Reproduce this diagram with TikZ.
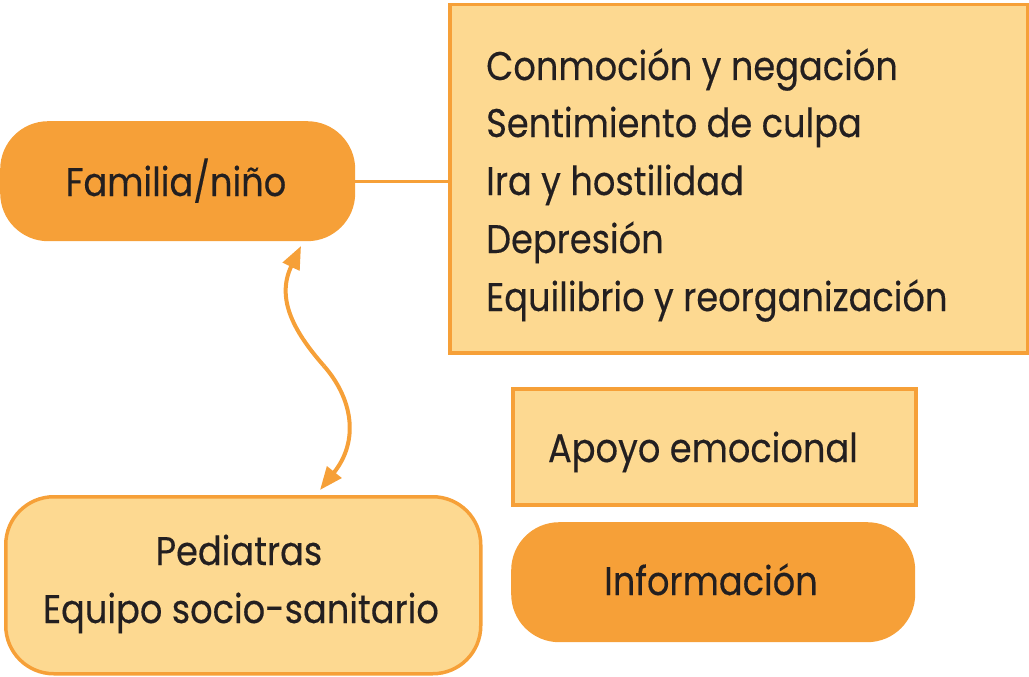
\documentclass[tikz,border=0pt]{standalone}
\usepackage{fontspec}
\usetikzlibrary{arrows.meta}
\setmainfont[FakeStretch=0.88,FakeBold=0.3]{Poppins}
\definecolor{orng}{RGB}{246,160,56}
\definecolor{lite}{RGB}{253,217,145}
\definecolor{ink}{RGB}{35,31,32}
\begin{document}
\begin{tikzpicture}[x=1pt,y=-1pt,
  txt/.style={inner sep=0pt,text=ink,font=\fontsize{40}{58}\selectfont},
  darkbox/.style={fill=orng,draw=none,rounded corners=48pt},
  litebox/.style={fill=lite,draw=orng,line width=3.5pt},
  conn/.style={draw=orng,line width=3pt},
  curve/.style={draw=orng,line width=4pt}
]
\useasboundingbox (0,0) rectangle (1029,677);
% boxes
\node[darkbox,minimum width=355pt,minimum height=120pt,anchor=north west] (fam) at (0,121) {};
\node[litebox,minimum width=578pt,minimum height=348pt,anchor=north west] (emo) at (448,3) {};
\node[litebox,minimum width=403pt,minimum height=116pt,anchor=north west] (apo) at (511,387) {};
\node[darkbox,minimum width=404pt,minimum height=120pt,anchor=north west] (inf) at (511,522) {};
\node[litebox,rounded corners=48pt,minimum width=475pt,minimum height=177pt,anchor=north west] (ped) at (4,495) {};
% texts
\node[txt,anchor=base] (famt) at (176,196) {Familia/niño};
\node[txt,anchor=base west] (e1) at (486,80) {Conmoción y negación};
\node[txt,anchor=base west] (e2) at (486,137) {Sentimiento de culpa};
\node[txt,anchor=base west] (e3) at (486,195) {Ira y hostilidad};
\node[txt,anchor=base west] (e4) at (486,253) {Depresión};
\node[txt,anchor=base west] (e5) at (486,311) {Equilibrio y reorganización};
\node[txt,anchor=base] (apot) at (703,462) {Apoyo emocional};
\node[txt,anchor=base] (inft) at (711,595) {Información};
\node[txt,anchor=base] (pedt1) at (239,565) {Pediatras};
\node[txt,anchor=base] (pedt2) at (241,623) {Equipo socio-sanitario};
% connector
\draw[conn] (fam.east) -- (emo.west |- fam.east);
% double arrow
\coordinate (top) at (301,246);
\coordinate (mid) at (324,366);
\coordinate (bot) at (320,490);
\draw[curve,{Triangle[length=23pt,width=18pt]}-] (top) .. controls (275,300) and (296,334) .. (mid);
\draw[curve,-{Triangle[length=23pt,width=18pt]}] (mid) .. controls (352,398) and (360,440) .. (bot);
\end{tikzpicture}
\end{document}
